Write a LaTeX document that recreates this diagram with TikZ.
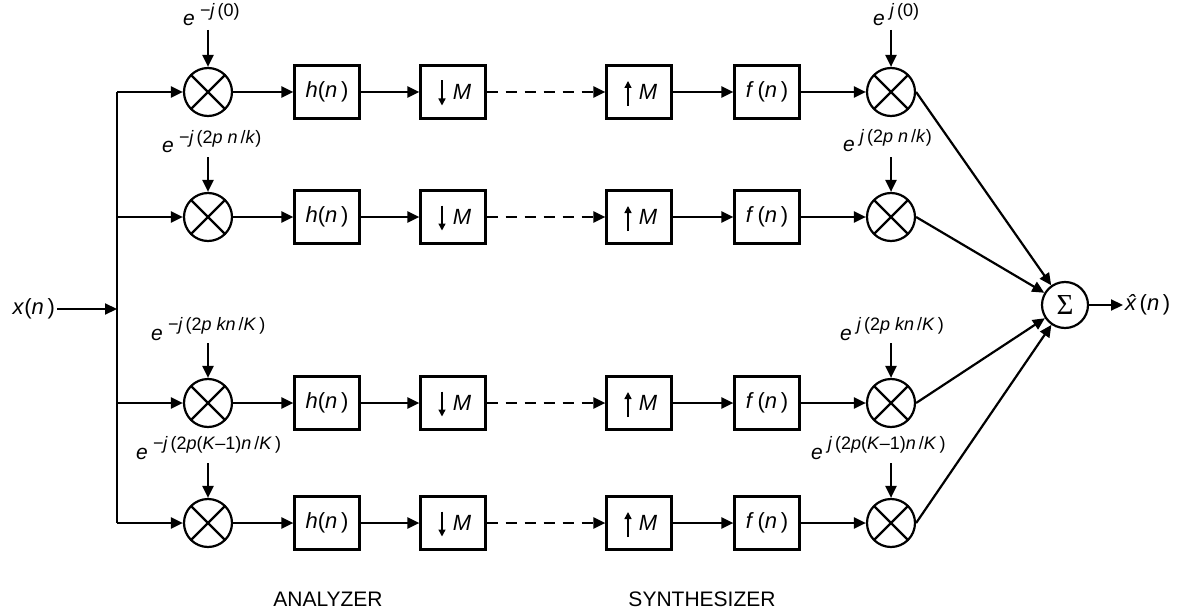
\documentclass[tikz,border=0pt]{standalone}
\usepackage{fontspec}
\setmainfont{Liberation Sans}
\newfontfamily\sigfont{Liberation Serif}
\usetikzlibrary{arrows.meta}
\newcommand{\ex}[1]{{\fontsize{21}{22}\selectfont\textit{e}}\hspace{5pt}\raisebox{9.5pt}{\fontsize{18}{19}\selectfont #1}}
\begin{document}
\begin{tikzpicture}[x=1pt,y=-1pt,line width=2.2pt,
  >={Triangle[length=12pt,width=11pt]},
  every node/.style={font=\fontsize{22}{24}\selectfont},
  blk/.style={draw,minimum width=65pt,minimum height=53pt,inner sep=0pt},
  mul/.style={draw,circle,minimum size=48pt,inner sep=0pt,
    path picture={\draw[line width=2.2pt] (path picture bounding box.north west) -- (path picture bounding box.south east)
      (path picture bounding box.north east) -- (path picture bounding box.south west);}},
  lab/.style={anchor=base west,inner sep=0pt},
  smallarr/.style={line width=1.4pt,-{Triangle[length=7pt,width=7pt]}},
  dsh/.style={->,dash pattern=on 11pt off 8pt}]
\useasboundingbox (0,0) rectangle (1183,615);

% rows
\foreach \i/\y in {1/92,2/217,3/403,4/523}{
  \coordinate (b\i) at (117,\y);
  \node[mul] (m\i) at (208,\y) {};
  \node[blk] (h\i) at (327,\y) {\textit{h}(\textit{n}\,)};
  \node[blk] (d\i) at (453,\y) {\hspace{18pt}\textit{M}};
  \node[blk] (u\i) at (639,\y) {\hspace{18pt}\textit{M}};
  \node[blk] (f\i) at (767,\y) {\textit{f}\,(\textit{n}\,)};
  \node[mul] (r\i) at (891,\y) {};
  \draw[->] (b\i) -- (m\i);
  \draw[->] (m\i) -- (h\i);
  \draw[->] (h\i) -- (d\i);
  \draw[dsh] (d\i) -- (u\i);
  \draw[->] (u\i) -- (f\i);
  \draw[->] (f\i) -- (r\i);
  \draw[smallarr] ([xshift=-11pt,yshift=11.5pt]d\i.center) -- ([xshift=-11pt,yshift=-13.5pt]d\i.center);
  \draw[smallarr] ([xshift=-11pt,yshift=-14pt]u\i.center) -- ([xshift=-11pt,yshift=11pt]u\i.center);
}
\draw (b1) -- (b4);

% input
\node[anchor=east,inner sep=1pt] (xn) at (57,309) {\textit{x}(\textit{n}\,)};
\coordinate (xin) at (117,309);
\draw[->] (xn.east) -- (xin);

% sum
\node[draw,circle,minimum size=46pt,inner sep=0pt] (S) at (1065,305) {\fontsize{29}{30}\sigfont Σ};
\foreach \i in {1,2,3,4}{\draw[->] (r\i.east) -- (S);}
\node[anchor=west,inner sep=1pt] (xh) at (1123,305) {\textit{\^{x}}(\textit{n}\,)};
\draw[->] (S.east) -- (xh.west);

% left modulation labels
\node[lab] (la1) at (182,26) {\ex{\textit{−j}\,(0)}};
\node[lab] (la2) at (161,153) {\ex{\textit{−j}\,(2\textit{p n}\,/\textit{k})}};
\node[lab] (la3) at (150,340) {\ex{\textit{−j}\,(2\textit{p kn}\,/\textit{K}\,)}};
\node[lab] (la4) at (135,459) {\ex{\textit{−j}\,(2\textit{p}(\textit{K}–1)\textit{n}\,/\textit{K}\,)}};
% right modulation labels
\node[lab] (ra1) at (872,26) {\ex{\textit{j}\,(0)}};
\node[lab] (ra2) at (842,152) {\ex{\textit{j}\,(2\textit{p n}\,/\textit{k})}};
\node[lab] (ra3) at (839,340) {\ex{\textit{j}\,(2\textit{p kn}\,/\textit{K}\,)}};
\node[lab] (ra4) at (810,459) {\ex{\textit{j}\,(2\textit{p}(\textit{K}–1)\textit{n}\,/\textit{K}\,)}};

\foreach \i/\y in {1/30,2/157,3/343,4/463}{
  \coordinate (tl\i) at (208,\y);
  \coordinate (tr\i) at (891,\y);
  \draw[->] (tl\i) -- (m\i.north);
  \draw[->] (tr\i) -- (r\i.north);
}

\node (an) at (328,599) {\fontsize{21}{22}\selectfont ANALYZER};
\node (sy) at (702,599) {\fontsize{21}{22}\selectfont SYNTHESIZER};
\end{tikzpicture}
\end{document}
